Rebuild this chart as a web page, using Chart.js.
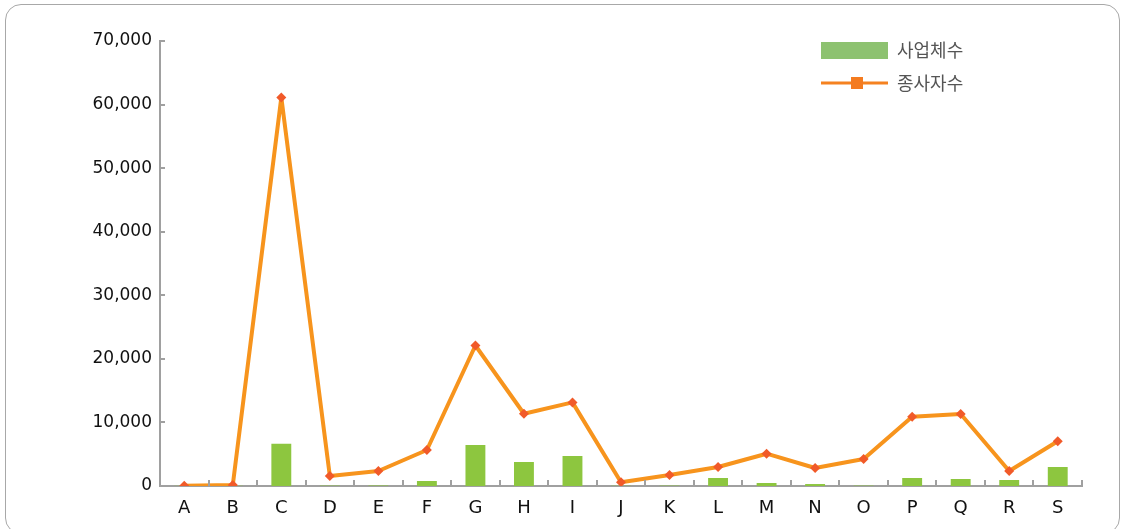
<!DOCTYPE html>
<html>
<head>
<meta charset="utf-8">
<script src="https://cdn.jsdelivr.net/npm/chart.js@4"></script>
<style>
  html, body { margin: 0; padding: 0; background: #fff; }
  #wrap { position: relative; width: 1124px; height: 529px; overflow: hidden; }
  #frame { position: absolute; left: 5px; top: 4px; width: 1115px; height: 530px;
           border: 1px solid #a8a8a8; border-radius: 16px; box-sizing: border-box; }
  canvas { position: absolute; left: 0; top: 0; }
</style>
</head>
<body>
<div id="wrap">
  <div id="frame"></div>
  <canvas id="c" width="1124" height="529"></canvas>
</div>
<script>
const categories = ['A','B','C','D','E','F','G','H','I','J','K','L','M','N','O','P','Q','R','S'];
const establishments = [30, 40, 6650, 60, 80, 790, 6450, 3780, 4720, 40, 60, 1260, 470, 310, 60, 1260, 1100, 940, 2990];
const employees = [50, 150, 61100, 1570, 2360, 5660, 22100, 11370, 13150, 600, 1730, 2990, 5080, 2830, 4250, 10880, 11330, 2360, 7030];
const yTicks = [0, 10000, 20000, 30000, 40000, 50000, 60000, 70000];
const seriesNames = ['사업체수', '종사자수'];

const AXIS = '#a0a0a0';

const innerTicks = {
  id: 'innerTicks',
  afterDatasetsDraw(chart) {
    const ctx = chart.ctx, x = chart.scales.x, y = chart.scales.y;
    const area = chart.chartArea;
    ctx.save();
    ctx.strokeStyle = AXIS;
    ctx.lineWidth = 2;
    ctx.beginPath();
    yTicks.forEach(v => {
      const py = Math.round(y.getPixelForValue(v));
      ctx.moveTo(area.left, py);
      ctx.lineTo(area.left + 5, py);
    });
    const n = categories.length;
    const half = (x.getPixelForValue(1) - x.getPixelForValue(0)) / 2;
    for (let i = 0; i < n; i++) {
      const px = Math.round(x.getPixelForValue(i) + half);
      ctx.moveTo(px, area.bottom);
      ctx.lineTo(px, area.bottom - 6);
    }
    ctx.stroke();
    ctx.restore();
  },
  afterDraw(chart) {
    const ctx = chart.ctx;
    ctx.save();
    ctx.font = '18px "Noto Sans CJK KR", "Noto Sans", sans-serif';
    ctx.textBaseline = 'middle';
    ctx.fillStyle = '#8DC270';
    ctx.fillRect(821, 42, 67, 17);
    ctx.fillStyle = '#555';
    ctx.fillText(seriesNames[0], 897, 50);
    ctx.strokeStyle = '#F58220';
    ctx.lineWidth = 3;
    ctx.beginPath();
    ctx.moveTo(821, 83); ctx.lineTo(888, 83);
    ctx.stroke();
    ctx.fillStyle = '#F47B20';
    ctx.fillRect(851, 77, 12, 12);
    ctx.fillStyle = '#555';
    ctx.fillText(seriesNames[1], 897, 83);
    ctx.restore();
  }
};

new Chart(document.getElementById('c'), {
  data: {
    labels: categories,
    datasets: [
      {
        type: 'line',
        label: seriesNames[1],
        data: employees,
        borderColor: '#F7941D',
        borderWidth: 4,
        borderJoinStyle: 'round',
        tension: 0,
        pointStyle: 'rectRot',
        pointRadius: 5,
        pointBackgroundColor: '#F15A29',
        pointBorderColor: '#F15A29',
        pointBorderWidth: 0,
        order: 0
      },
      {
        type: 'bar',
        label: seriesNames[0],
        data: establishments,
        backgroundColor: '#8DC63F',
        barPercentage: 0.41,
        categoryPercentage: 1,
        order: 1
      }
    ]
  },
  options: {
    responsive: false,
    animation: false,
    devicePixelRatio: 1,
    layout: { padding: { left: 0, right: 42, top: 41, bottom: 0 } },
    plugins: { legend: { display: false }, tooltip: { enabled: false } },
    scales: {
      x: {
        offset: true,
        grid: { display: false, drawTicks: false, offset: true },
        border: { display: true, color: AXIS, width: 2 },
        ticks: { color: '#111', font: { family: 'DejaVu Sans', size: 18 }, padding: 12 },
        afterFit(s) { s.height = 43; }
      },
      y: {
        min: 0, max: 70000,
        afterBuildTicks(s) { s.ticks = yTicks.map(v => ({ value: v })); },
        grid: { display: false, drawTicks: false },
        border: { display: true, color: AXIS, width: 2 },
        ticks: {
          color: '#111', font: { family: 'DejaVu Sans', size: 17 }, padding: 8,
          callback: v => v.toLocaleString('en-US')
        },
        afterFit(s) { s.width = 160; }
      }
    }
  },
  plugins: [innerTicks]
});
</script>
</body>
</html>
